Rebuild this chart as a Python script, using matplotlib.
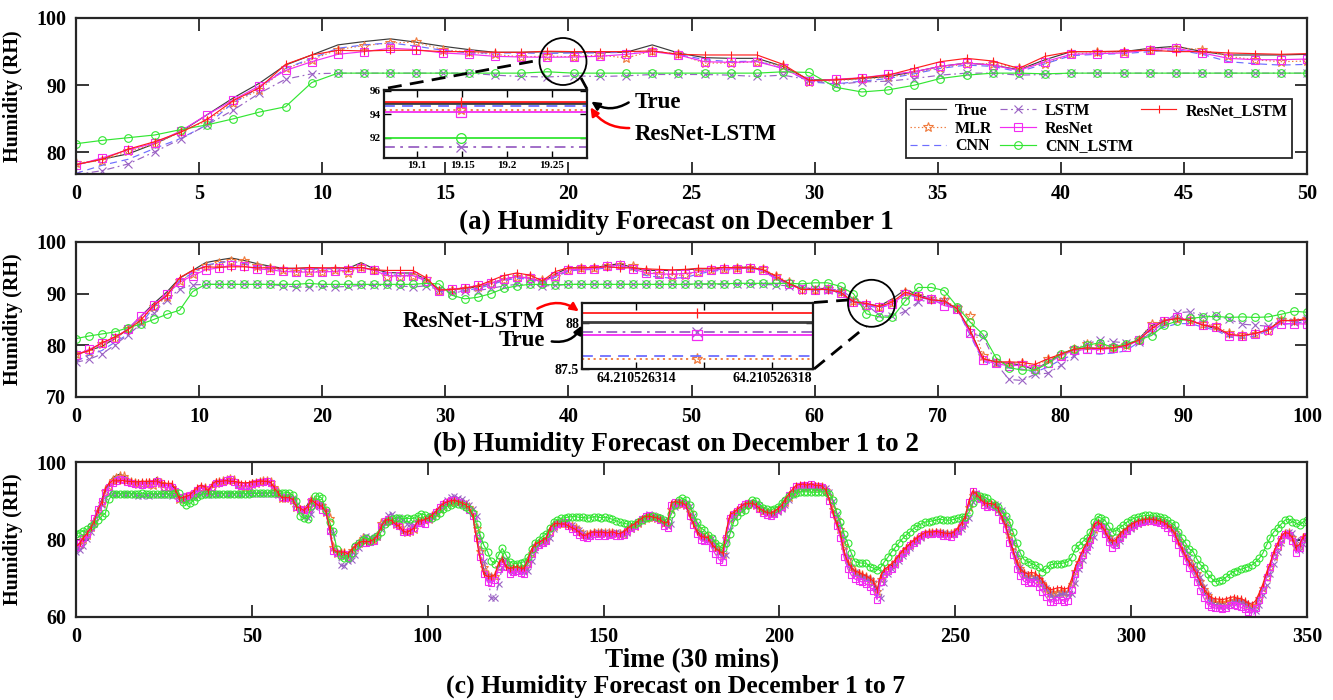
import numpy as np
import matplotlib
matplotlib.use('Agg')
import matplotlib.pyplot as plt
from matplotlib.patches import Ellipse, FancyArrowPatch
from matplotlib.lines import Line2D
from matplotlib.ticker import FixedLocator, FixedFormatter

plt.rcParams['font.family'] = ['Liberation Serif', 'DejaVu Serif']
plt.rcParams['font.weight'] = 'bold'
plt.rcParams['axes.labelweight'] = 'bold'

# ---------------- data (half-hourly humidity, 7 days) ----------------
TRUE = [
 78.2, 79.0, 79.8, 81.3, 83.1, 85.6, 88.1, 90.3, 93.0, 94.5,
 96.0, 96.5, 96.9, 96.4, 95.8, 95.3, 94.9, 94.9, 94.98, 94.9,
 94.9, 94.9, 96.0, 94.8, 94.1, 94.0, 94.0, 92.8, 90.8, 90.8,
 91.0, 91.3, 92.0, 92.8, 93.3, 93.0, 92.3, 93.8, 95.0, 95.0,
 95.0, 95.5, 95.8, 95.0, 94.5, 94.5, 94.5, 94.6, 94.8, 94.8,
 95.0, 95.0, 95.2, 94.6, 93.0, 92.0, 91.0, 91.0, 91.0, 90.0,
 88.4, 88.01, 87.6, 89.0, 90.8, 89.8, 89.0, 88.4, 87.1, 82.9,
 77.4, 76.8, 76.5, 76.2, 75.2, 76.8, 78.3, 79.3, 79.5, 79.4,
 79.5, 79.8, 81.2, 83.8, 84.8, 85.2, 84.8, 83.9, 83.2, 82.0,
 81.8, 82.3, 83.0, 84.9, 84.7, 85.0, 85.5, 86.2, 87.0, 88.2,
 89.0, 89.5, 89.8, 90.0, 89.6, 89.3, 88.8, 88.0, 86.5, 81.0,
 76.0, 72.0, 70.2, 70.0, 70.3, 73.4, 75.5, 73.5, 72.1, 72.4,
 72.8, 72.4, 72.2, 74.5, 77.0, 78.6, 79.0, 79.5, 80.0, 82.5,
 83.8, 84.0, 84.2, 84.2, 83.8, 83.2, 82.9, 82.0, 81.2, 81.0,
 81.5, 81.8, 81.6, 81.9, 81.5, 81.6, 81.8, 81.4, 81.3, 81.6,
 82.5, 83.2, 83.7, 84.5, 85.2, 85.8, 85.9, 85.6, 85.5, 85.3,
 84.0, 83.7, 89.0, 89.3, 89.3, 89.2, 88.9, 86.5, 84.6, 82.5,
 80.8, 80.5, 80.7, 79.0, 77.7, 76.8, 76.0, 82.0, 86.0, 86.8,
 87.5, 88.5, 89.0, 89.1, 89.3, 88.8, 88.0, 87.2, 86.8, 86.5,
 87.0, 87.8, 88.5, 90.0, 91.3, 92.5, 93.6, 93.5, 93.7, 93.6,
 93.8, 93.5, 93.6, 93.4, 92.6, 90.5, 87.2, 84.5, 82.0, 77.0,
 74.0, 72.5, 71.3, 71.0, 70.6, 70.2, 69.5, 68.7, 65.7, 70.5,
 72.0, 72.6, 73.4, 74.5, 75.8, 76.9, 77.8, 78.9, 79.6, 80.3,
 81.0, 81.5, 81.7, 81.6, 81.8, 81.6, 81.4, 81.3, 81.2, 81.8,
 82.7, 84.0, 85.5, 89.5, 92.3, 91.5, 90.5, 89.3, 88.9, 89.0,
 88.9, 87.5, 85.8, 83.7, 80.3, 77.5, 74.0, 72.0, 70.8, 70.4,
 70.5, 70.4, 69.5, 68.3, 67.0, 65.7, 66.0, 66.4, 66.6, 66.3,
 66.5, 69.0, 72.6, 74.8, 77.0, 78.6, 80.5, 83.5, 84.3, 83.5,
 82.0, 80.2, 79.0, 79.5, 81.0, 82.0, 82.6, 83.5, 84.0, 84.5,
 84.8, 85.0, 85.1, 85.0, 84.8, 84.6, 84.2, 83.6, 82.8, 81.5,
 79.5, 77.7, 75.8, 74.0, 72.6, 70.8, 68.5, 66.6, 65.0, 64.0,
 63.8, 63.6, 63.5, 63.8, 64.4, 64.5, 64.2, 64.0, 63.5, 62.5,
 62.2, 63.5, 65.7, 68.0, 71.0, 73.5, 76.5, 78.6, 80.5, 81.6,
 81.5, 80.3, 77.5, 78.5, 80.7, 81.2]

RESNET_LSTM = [
 78.2, 79.0, 80.5, 81.6, 83.0, 84.9, 87.7, 89.6, 93.1, 94.5,
 95.2, 95.1, 95.2, 95.2, 95.0, 95.0, 94.9, 94.9, 95.06, 95.0,
 95.0, 95.0, 95.1, 94.6, 94.5, 94.5, 94.5, 93.1, 90.7, 90.8,
 91.1, 91.5, 92.5, 93.5, 94.0, 93.6, 92.5, 94.3, 95.0, 95.0,
 95.1, 95.2, 95.0, 95.0, 94.8, 94.7, 94.6, 94.7, 94.9, 94.9,
 95.1, 95.0, 95.0, 94.7, 93.4, 92.0, 90.8, 90.8, 90.8, 90.3,
 88.4, 88.11, 87.5, 88.4, 90.3, 89.5, 88.8, 88.6, 87.1, 82.9,
 77.4, 76.8, 76.8, 76.7, 76.3, 77.4, 78.3, 79.2, 79.5, 79.4,
 79.5, 80.0, 81.0, 83.2, 84.8, 85.2, 84.8, 83.9, 83.5, 82.1,
 81.9, 82.3, 83.0, 84.8, 84.8, 85.2, 85.6, 86.4, 87.3, 88.5,
 89.3, 89.7, 90.0, 90.1, 89.8, 89.4, 89.0, 88.2, 86.0, 80.0,
 74.8, 71.0, 70.5, 70.4, 71.0, 74.0, 75.0, 73.0, 72.5, 72.8,
 73.0, 72.6, 72.6, 75.0, 77.5, 78.8, 79.3, 79.8, 80.5, 83.0,
 84.0, 84.2, 84.0, 84.0, 83.5, 83.0, 82.6, 81.8, 81.0, 81.2,
 81.8, 82.0, 81.8, 82.0, 81.7, 81.8, 82.0, 81.6, 81.5, 82.0,
 82.8, 83.5, 84.0, 84.8, 85.5, 86.0, 86.0, 85.8, 85.6, 85.2,
 84.2, 84.5, 89.5, 89.8, 89.6, 89.4, 88.8, 86.0, 84.0, 82.0,
 80.8, 80.6, 80.5, 78.8, 77.8, 77.0, 76.5, 82.5, 86.5, 87.0,
 87.8, 88.6, 89.2, 89.3, 89.4, 88.9, 88.0, 87.4, 87.0, 86.8,
 87.2, 88.0, 88.8, 90.3, 91.8, 93.0, 94.0, 94.2, 94.3, 94.0,
 94.4, 94.0, 94.0, 93.8, 92.8, 90.2, 86.8, 84.0, 81.5, 76.8,
 74.2, 72.8, 71.8, 71.5, 71.0, 70.6, 70.0, 69.2, 67.0, 70.8,
 72.3, 73.0, 73.8, 74.8, 76.0, 77.2, 78.0, 79.0, 79.8, 80.5,
 81.2, 81.8, 82.0, 81.9, 82.1, 81.9, 81.7, 81.6, 81.5, 82.0,
 83.0, 84.3, 86.0, 90.0, 92.5, 91.8, 90.6, 89.6, 89.2, 89.3,
 89.0, 87.8, 85.6, 83.4, 80.0, 77.0, 74.2, 72.4, 71.5, 71.2,
 71.5, 71.3, 70.5, 69.5, 68.0, 67.0, 67.2, 67.5, 67.6, 67.2,
 67.5, 70.0, 73.0, 75.2, 77.3, 79.0, 81.0, 83.8, 84.5, 83.8,
 82.2, 80.5, 79.5, 80.0, 81.4, 82.3, 83.0, 83.8, 84.3, 84.8,
 85.0, 85.2, 85.3, 85.2, 85.0, 84.8, 84.4, 83.8, 83.0, 81.5,
 79.3, 77.5, 75.6, 74.0, 72.8, 71.0, 69.0, 67.3, 65.8, 65.0,
 64.7, 64.6, 64.5, 64.7, 65.0, 65.2, 64.8, 64.8, 64.3, 63.5,
 63.3, 64.2, 66.2, 68.5, 71.5, 74.0, 77.0, 79.0, 80.8, 81.8,
 81.6, 80.5, 78.0, 78.8, 80.8, 81.3]

RESNET = [
 78.1, 79.2, 80.4, 81.4, 83.2, 85.6, 87.8, 89.9, 92.2, 93.5,
 94.6, 95.0, 95.5, 95.3, 94.8, 94.6, 94.3, 94.2, 94.16, 94.2,
 94.3, 94.6, 95.0, 94.5, 93.5, 93.4, 93.5, 92.5, 90.6, 90.9,
 91.1, 91.6, 92.0, 92.8, 93.3, 93.0, 92.2, 93.5, 94.6, 94.7,
 94.8, 95.3, 95.5, 94.8, 94.0, 93.8, 93.8, 93.9, 94.2, 94.5,
 94.8, 94.8, 95.0, 94.5, 92.8, 91.8, 90.9, 90.8, 90.9, 90.2,
 88.4, 87.87, 87.5, 88.0, 90.0, 89.5, 89.0, 87.7, 87.1, 82.3,
 77.1, 76.5, 76.0, 76.2, 75.5, 76.5, 78.0, 79.0, 79.2, 79.2,
 79.4, 79.7, 81.0, 83.5, 84.8, 85.4, 84.8, 84.0, 83.5, 81.9,
 81.9, 82.2, 83.0, 84.2, 84.2, 84.1, 85.2, 86.0, 87.0, 88.3,
 89.2, 89.8, 90.2, 90.3, 89.8, 89.2, 88.5, 87.5, 86.0, 80.5,
 75.5, 71.0, 69.0, 68.8, 69.5, 72.5, 74.5, 72.8, 71.2, 71.5,
 71.8, 71.3, 71.2, 73.8, 76.2, 78.0, 78.5, 79.0, 79.6, 82.0,
 83.6, 84.0, 84.3, 84.5, 83.6, 82.6, 82.0, 81.2, 80.6, 80.5,
 81.0, 81.4, 81.0, 81.4, 81.0, 81.1, 81.3, 80.8, 80.8, 81.2,
 82.2, 83.0, 83.6, 84.6, 85.4, 86.0, 86.2, 85.8, 85.5, 85.0,
 83.5, 83.0, 88.8, 89.6, 89.5, 89.3, 88.8, 86.0, 83.8, 81.5,
 79.8, 79.5, 79.5, 77.8, 76.2, 74.8, 74.2, 80.5, 85.5, 86.5,
 87.3, 88.5, 89.2, 89.4, 89.5, 88.8, 87.8, 86.8, 86.2, 86.0,
 86.6, 87.6, 88.4, 90.0, 91.5, 92.8, 93.8, 93.8, 94.0, 93.9,
 94.2, 93.8, 93.9, 93.6, 92.6, 90.0, 86.5, 83.5, 80.5, 75.5,
 72.5, 70.8, 69.8, 69.4, 69.0, 68.5, 67.8, 66.8, 64.5, 69.0,
 71.0, 71.8, 72.5, 73.8, 75.2, 76.4, 77.3, 78.5, 79.2, 80.0,
 80.8, 81.3, 81.5, 81.4, 81.6, 81.3, 81.0, 80.8, 80.6, 81.3,
 82.3, 83.8, 85.3, 89.6, 92.5, 91.8, 90.5, 89.0, 88.5, 88.6,
 88.5, 87.0, 85.0, 82.8, 79.0, 76.0, 72.5, 70.5, 69.2, 68.8,
 69.0, 68.8, 67.8, 66.5, 65.2, 63.8, 64.0, 64.3, 64.5, 64.0,
 64.2, 67.0, 71.0, 73.5, 76.0, 78.0, 80.0, 83.2, 84.0, 83.0,
 81.3, 79.3, 77.8, 78.5, 80.3, 81.5, 82.2, 83.2, 83.8, 84.3,
 84.6, 84.8, 84.9, 84.8, 84.5, 84.3, 83.8, 83.0, 82.0, 80.5,
 78.5, 76.5, 74.5, 72.6, 71.0, 69.0, 66.8, 64.8, 63.2, 62.5,
 62.3, 62.2, 62.0, 62.4, 63.0, 63.2, 62.8, 62.5, 62.0, 61.2,
 61.0, 62.2, 64.5, 67.0, 70.2, 72.8, 76.0, 78.2, 80.2, 81.4,
 81.2, 79.5, 76.5, 77.8, 80.2, 80.8]

MLR = [
 78.4, 78.8, 80.2, 81.2, 83.1, 84.7, 87.4, 89.3, 92.5, 93.8,
 95.3, 95.9, 96.3, 96.4, 95.3, 94.9, 94.6, 94.2, 94.36, 94.2,
 94.5, 94.05, 95.1, 94.6, 93.3, 93.3, 93.5, 92.9, 90.5, 90.7,
 90.9, 91.2, 91.8, 92.6, 93.2, 93.2, 92.6, 93.2, 94.6, 94.9,
 95.0, 95.3, 95.6, 95.3, 94.3, 93.8, 93.5, 93.6, 94.2, 94.6,
 94.8, 95.0, 95.0, 94.8, 93.5, 92.2, 90.8, 90.8, 90.9, 90.3,
 88.5, 87.61, 87.5, 88.2, 90.3, 89.6, 89.0, 88.8, 87.2, 85.6,
 78.0, 76.6, 76.4, 76.5, 75.8, 77.4, 78.0, 79.2, 80.3, 79.8,
 79.6, 80.0, 81.0, 84.2, 84.5, 85.0, 84.9, 84.1, 83.8, 82.4,
 82.0, 82.2, 82.8, 84.9, 84.7, 85.0, 85.2, 86.0, 86.8, 87.8,
 88.8, 89.4, 89.7, 90.0, 89.7, 89.4, 89.0, 88.3, 87.2, 83.0,
 77.0, 72.8, 70.8, 70.3, 70.5, 72.8, 75.0, 74.0, 72.6, 72.4,
 72.8, 72.6, 72.4, 74.0, 76.5, 78.4, 79.0, 79.4, 80.0, 82.0,
 83.6, 84.0, 84.2, 84.2, 83.9, 83.4, 83.0, 82.2, 81.5, 81.1,
 81.4, 81.8, 81.7, 81.8, 81.6, 81.6, 81.8, 81.5, 81.3, 81.5,
 82.3, 83.0, 83.6, 84.3, 85.0, 85.6, 85.8, 85.7, 85.5, 85.4,
 84.3, 83.8, 88.0, 89.2, 89.3, 89.2, 89.0, 87.0, 85.0, 83.0,
 81.2, 80.6, 80.7, 79.3, 78.0, 77.0, 76.3, 80.5, 85.2, 86.6,
 87.3, 88.2, 88.9, 89.1, 89.2, 88.9, 88.2, 87.4, 86.9, 86.6,
 86.9, 87.6, 88.3, 89.6, 91.0, 92.3, 93.3, 93.5, 93.6, 93.6,
 93.7, 93.6, 93.6, 93.5, 92.9, 91.2, 88.0, 85.3, 82.8, 78.5,
 75.0, 73.0, 71.6, 71.1, 70.8, 70.4, 69.8, 69.0, 66.8, 69.8,
 71.7, 72.5, 73.3, 74.3, 75.6, 76.7, 77.6, 78.7, 79.5, 80.2,
 80.9, 81.4, 81.7, 81.6, 81.8, 81.7, 81.5, 81.4, 81.3, 81.7,
 82.5, 83.7, 85.2, 88.5, 91.5, 91.6, 90.8, 89.6, 89.0, 89.0,
 89.0, 87.9, 86.3, 84.3, 81.3, 78.3, 75.0, 72.6, 71.2, 70.6,
 70.5, 70.5, 69.8, 68.7, 67.4, 66.2, 66.1, 66.4, 66.6, 66.5,
 66.5, 68.4, 71.8, 74.3, 76.6, 78.3, 80.2, 82.8, 84.1, 83.7,
 82.4, 80.6, 79.3, 79.4, 80.6, 81.8, 82.4, 83.2, 83.8, 84.3,
 84.7, 84.9, 85.1, 85.0, 84.9, 84.7, 84.3, 83.8, 83.0, 81.9,
 80.0, 78.2, 76.3, 74.5, 73.0, 71.3, 69.2, 67.2, 65.6, 64.5,
 64.0, 63.8, 63.6, 63.8, 64.2, 64.5, 64.3, 64.1, 63.7, 62.9,
 62.5, 63.2, 65.0, 67.4, 70.3, 73.0, 75.8, 78.2, 80.2, 81.4,
 81.6, 80.7, 78.2, 78.3, 80.3, 81.0]

CNN = [
 76.9, 78.1, 79.0, 80.6, 82.1, 84.1, 87.4, 89.6, 92.5, 94.0,
 95.5, 96.0, 96.3, 95.8, 95.2, 94.8, 94.8, 94.8, 94.72, 94.8,
 94.8, 94.9, 95.1, 94.6, 93.8, 93.5, 93.6, 92.5, 90.5, 90.2,
 90.6, 91.0, 91.7, 92.5, 93.0, 92.8, 92.0, 93.2, 94.4, 94.6,
 94.7, 95.0, 95.3, 94.6, 93.5, 93.2, 93.0, 93.1, 93.8, 94.3,
 94.6, 94.7, 94.8, 94.4, 93.0, 91.8, 90.9, 90.7, 90.7, 90.0,
 88.2, 87.64, 87.3, 87.9, 89.9, 89.3, 88.8, 88.0, 87.0, 82.0,
 76.9, 76.2, 75.6, 75.4, 74.8, 75.8, 77.2, 78.2, 78.5, 78.3,
 78.5, 78.9, 80.6, 83.0, 83.5, 84.2, 84.2, 83.5, 82.9, 81.6,
 81.4, 81.8, 82.8, 84.0, 84.3, 84.6, 85.0, 85.6, 86.4, 87.6,
 88.4, 88.9, 89.2, 89.4, 89.0, 88.7, 88.2, 87.4, 85.8, 80.4,
 75.3, 71.2, 69.4, 69.2, 69.5, 72.6, 74.8, 72.8, 71.4, 71.7,
 72.1, 71.7, 71.5, 73.8, 76.3, 77.9, 78.3, 78.8, 79.3, 81.8,
 83.1, 83.4, 83.6, 83.6, 83.2, 82.6, 82.3, 81.4, 80.6, 80.4,
 80.9, 81.2, 81.0, 81.3, 80.9, 81.0, 81.2, 80.8, 80.7, 81.0,
 81.9, 82.6, 83.1, 83.9, 84.6, 85.2, 85.3, 85.0, 84.9, 84.7,
 83.4, 83.1, 88.4, 88.7, 88.7, 88.6, 88.3, 85.9, 84.0, 81.9,
 80.2, 79.9, 80.1, 78.4, 77.1, 76.2, 75.4, 81.4, 85.4, 86.2,
 86.9, 87.9, 88.4, 88.5, 88.7, 88.2, 87.4, 86.6, 86.2, 85.9,
 86.4, 87.2, 87.9, 89.4, 90.7, 91.9, 93.0, 92.9, 93.1, 93.0,
 93.2, 92.9, 93.0, 92.8, 92.0, 89.9, 86.6, 83.9, 81.4, 76.4,
 73.4, 71.9, 70.7, 70.4, 70.0, 69.6, 68.9, 68.1, 65.1, 69.9,
 71.4, 72.0, 72.8, 73.9, 75.2, 76.3, 77.2, 78.3, 79.0, 79.7,
 80.4, 80.9, 81.1, 81.0, 81.2, 81.0, 80.8, 80.7, 80.6, 81.2,
 82.1, 83.4, 84.9, 88.9, 91.7, 90.9, 89.9, 88.7, 88.3, 88.4,
 88.3, 86.9, 85.2, 83.1, 79.7, 76.9, 73.4, 71.4, 70.2, 69.8,
 69.9, 69.8, 68.9, 67.7, 66.4, 65.1, 65.4, 65.8, 66.0, 65.7,
 65.9, 68.4, 72.0, 74.2, 76.4, 78.0, 79.9, 82.9, 83.7, 82.9,
 81.4, 79.6, 78.4, 78.9, 80.4, 81.4, 82.0, 82.9, 83.4, 83.9,
 84.2, 84.4, 84.5, 84.4, 84.2, 84.0, 83.6, 83.0, 82.2, 80.9,
 78.9, 77.1, 75.2, 73.4, 72.0, 70.2, 67.9, 66.0, 64.4, 63.4,
 63.2, 63.0, 62.9, 63.2, 63.8, 63.9, 63.6, 63.4, 62.9, 61.9,
 61.6, 62.9, 65.1, 67.4, 70.4, 72.9, 75.9, 78.0, 79.9, 81.0,
 80.9, 79.7, 76.9, 77.9, 80.1, 80.6]

LSTM = [
 76.7, 77.3, 78.3, 80.1, 82.0, 84.1, 86.3, 88.8, 90.9, 91.7,
 91.8, 91.8, 91.8, 91.8, 91.8, 91.8, 91.5, 91.3, 91.23, 91.4,
 91.3, 91.4, 91.6, 91.6, 91.6, 91.5, 91.3, 91.5, 90.8, 90.1,
 90.5, 90.6, 91.0, 91.5, 91.8, 91.8, 91.5, 91.6, 91.8, 91.8,
 91.8, 91.8, 91.8, 91.8, 91.8, 91.8, 91.8, 91.8, 91.8, 91.8,
 91.8, 91.8, 91.8, 91.8, 91.7, 91.5, 91.2, 91.0, 90.8, 90.8,
 89.0, 87.90, 85.8, 85.6, 86.6, 88.4, 88.9, 88.6, 87.0, 82.3,
 81.7, 76.5, 73.4, 73.2, 74.4, 74.6, 76.1, 77.9, 80.3, 81.0,
 80.7, 80.5, 80.6, 82.6, 84.5, 86.3, 86.5, 85.6, 85.8, 85.0,
 84.1, 83.9, 83.7, 84.8, 84.6, 85.0, 85.5, 86.0, 86.8, 87.8,
 89.0, 90.2, 91.0, 91.1, 90.8, 90.4, 89.8, 89.0, 88.0, 86.0,
 80.0, 74.5, 70.5, 65.0, 64.8, 68.5, 72.8, 75.0, 73.0, 71.5,
 71.8, 72.0, 71.5, 72.0, 74.5, 77.2, 78.5, 79.0, 79.6, 80.3,
 82.6, 84.0, 84.5, 84.6, 84.4, 83.8, 83.0, 82.4, 81.6, 81.0,
 81.0, 81.6, 82.0, 81.6, 82.0, 81.5, 81.7, 82.0, 81.6, 81.3,
 81.6, 82.6, 83.5, 84.2, 85.0, 85.9, 86.5, 86.2, 85.8, 85.5,
 85.0, 83.5, 84.0, 88.5, 89.5, 89.5, 89.3, 88.6, 86.0, 84.0,
 81.8, 80.3, 80.0, 80.3, 78.5, 76.8, 75.5, 76.0, 82.5, 86.0,
 87.2, 87.8, 88.8, 89.3, 89.4, 89.5, 89.0, 88.0, 87.2, 86.8,
 86.6, 87.2, 88.0, 88.8, 90.2, 91.5, 92.5, 93.2, 93.4, 93.5,
 93.5, 93.6, 93.4, 93.5, 93.2, 92.3, 90.0, 86.5, 83.5, 80.5,
 75.5, 72.8, 71.5, 70.6, 70.4, 70.0, 69.6, 68.8, 67.5, 64.8,
 68.8, 71.2, 72.5, 73.3, 74.5, 75.8, 76.9, 77.9, 79.0, 79.7,
 80.4, 81.1, 81.6, 81.8, 81.7, 81.9, 81.6, 81.5, 81.3, 81.3,
 81.9, 82.8, 84.1, 85.6, 89.6, 92.0, 91.0, 90.2, 89.4, 88.9,
 89.1, 88.9, 87.5, 85.5, 83.0, 79.5, 76.5, 73.0, 71.2, 70.2,
 69.8, 70.0, 69.9, 68.9, 67.6, 66.2, 64.8, 65.4, 66.0, 66.3,
 65.8, 66.0, 68.8, 72.5, 74.8, 77.0, 78.7, 80.6, 83.6, 84.5,
 83.4, 81.8, 79.9, 78.5, 79.5, 81.2, 82.2, 82.8, 83.6, 84.1,
 84.6, 84.9, 85.1, 85.2, 85.0, 84.8, 84.6, 84.2, 83.5, 82.6,
 81.2, 79.0, 77.2, 75.4, 73.5, 72.0, 70.2, 67.8, 65.8, 64.2,
 63.2, 62.9, 62.8, 62.7, 63.0, 63.8, 64.2, 63.9, 63.6, 63.0,
 61.8, 61.5, 63.2, 65.8, 68.2, 71.2, 73.8, 76.8, 79.0, 80.8,
 81.9, 81.6, 80.0, 77.2, 78.9, 80.8]

CNN_LSTM = [
 81.3, 81.8, 82.2, 82.6, 83.4, 84.1, 85.0, 86.0, 86.8, 90.4,
 91.8, 91.8, 91.8, 91.8, 91.8, 91.8, 91.8, 91.8, 92.0, 91.8,
 91.8, 91.8, 91.8, 91.8, 91.8, 91.8, 91.8, 92.0, 91.9, 89.7,
 89.0, 89.3, 90.0, 91.0, 91.5, 91.8, 91.8, 91.7, 91.8, 91.8,
 91.8, 91.8, 91.8, 91.8, 91.8, 91.8, 91.8, 91.8, 91.9, 91.9,
 91.9, 92.0, 92.0, 92.0, 92.0, 92.0, 91.9, 92.1, 92.1, 91.4,
 90.0, 86.1, 85.5, 85.4, 88.6, 91.2, 91.2, 90.6, 87.5, 84.5,
 82.1, 77.6, 75.7, 75.2, 75.2, 76.5, 78.3, 79.2, 80.0, 80.5,
 79.6, 80.3, 81.0, 81.9, 83.9, 84.7, 85.2, 85.5, 85.6, 85.4,
 85.5, 85.4, 85.5, 86.0, 86.6, 86.4, 85.8, 85.6, 86.0, 86.8,
 87.8, 88.5, 89.0, 89.3, 89.2, 89.0, 88.5, 87.8, 86.8, 84.0,
 81.2, 78.5, 76.9, 74.5, 73.8, 76.0, 77.7, 76.0, 74.3, 73.8,
 73.8, 74.0, 74.3, 75.5, 77.5, 79.0, 80.0, 80.8, 81.5, 83.0,
 84.6, 85.0, 85.5, 85.6, 85.8, 85.9, 85.9, 85.7, 85.7, 85.5,
 85.6, 85.9, 85.8, 85.6, 85.8, 85.5, 85.2, 84.8, 84.4, 84.2,
 84.0, 84.0, 84.1, 84.5, 85.0, 85.5, 85.9, 86.0, 85.8, 85.6,
 85.0, 84.5, 86.5, 88.9, 90.2, 90.6, 90.2, 89.0, 86.5, 84.5,
 83.0, 82.4, 81.2, 80.3, 79.2, 78.4, 77.7, 79.0, 81.5, 84.6,
 86.0, 87.0, 87.6, 88.8, 90.2, 90.0, 89.0, 88.2, 87.8, 87.6,
 88.0, 88.5, 89.5, 90.3, 91.1, 91.8, 92.1, 92.3, 92.3, 92.3,
 92.2, 92.2, 92.2, 92.3, 92.3, 91.8, 90.2, 87.0, 84.6, 81.5,
 79.0, 76.5, 74.3, 74.0, 73.9, 73.9, 73.0, 72.6, 72.1, 72.8,
 74.3, 75.5, 76.9, 78.0, 79.2, 80.3, 81.2, 82.0, 82.9, 83.5,
 84.0, 84.5, 84.6, 84.8, 85.0, 85.2, 85.1, 85.0, 85.0, 85.2,
 85.5, 85.8, 85.9, 87.0, 89.3, 91.5, 91.3, 91.0, 90.6, 89.8,
 89.0, 88.5, 87.0, 86.0, 84.6, 82.0, 79.0, 76.5, 74.8, 74.3,
 73.8, 73.4, 72.8, 71.7, 72.5, 73.4, 73.6, 73.8, 73.8, 74.0,
 74.3, 75.5, 77.7, 78.5, 79.5, 80.3, 82.0, 84.5, 85.9, 85.5,
 85.0, 83.5, 82.0, 82.3, 83.0, 83.7, 84.5, 85.0, 85.5, 85.8,
 86.0, 86.2, 86.2, 86.1, 86.0, 85.9, 85.6, 85.0, 84.3, 83.7,
 82.0, 80.3, 79.0, 77.5, 76.9, 75.0, 73.5, 72.6, 71.0, 70.0,
 69.1, 69.3, 69.5, 70.3, 71.0, 71.7, 72.0, 72.3, 72.6, 73.0,
 73.4, 74.2, 75.1, 76.5, 78.6, 80.5, 82.0, 82.9, 84.0, 85.0,
 85.2, 84.6, 84.2, 83.7, 84.6, 85.0]

SERIES_NAMES = ['True', 'MLR', 'CNN', 'LSTM', 'ResNet', 'CNN_LSTM', 'ResNet_LSTM']
SERIES = {'True': TRUE, 'MLR': MLR, 'CNN': CNN, 'LSTM': LSTM, 'ResNet': RESNET,
          'CNN_LSTM': CNN_LSTM, 'ResNet_LSTM': RESNET_LSTM}
for k, v in SERIES.items():
    assert len(v) == 336, (k, len(v))

POINTS_PER_DAY = 48
PANEL_DAYS = [1, 2, 7]
PANEL_XMAX = [50, 100, 350]
INSET_A_INDEX = 18
INSET_B_INDEX = 61

STYLE = {
    'True':        dict(color='#3c3c3c', ls='-',  marker=None),
    'MLR':         dict(color='#F07A3C', ls=':',  marker='*'),
    'CNN':         dict(color='#6E6EFF', ls='--', marker=None),
    'LSTM':        dict(color='#9A62C4', ls='-.', marker='x'),
    'ResNet':      dict(color='#F22CF2', ls='-',  marker='s'),
    'CNN_LSTM':    dict(color='#33E633', ls='-',  marker='o'),
    'ResNet_LSTM': dict(color='#FF1E1E', ls='-',  marker='|'),
}
DASHES = {'--': (0, (6, 4)), '-.': (0, (6, 3, 1.5, 3)), ':': (0, (1.2, 2))}

W, H = 1333, 700
fig = plt.figure(figsize=(13.33, 7.0), dpi=100)

def fx(px):
    return px / W

def fy(py):
    return 1 - py / H

SPINE = '#262626'

def style_axes(ax, labelsize=14.5, ticklen=9):
    for s in ax.spines.values():
        s.set_color(SPINE)
        s.set_linewidth(1.6)
    ax.tick_params(direction='in', length=ticklen, width=1.3, top=True, right=True,
                   labelsize=labelsize, colors=SPINE, labelcolor='black', pad=7)

def plot_series(ax, n, xmax, ms, lw=0.85):
    x = np.linspace(0, xmax, n)
    handles = []
    for name in SERIES_NAMES:
        st = STYLE[name]
        ls = DASHES.get(st['ls'], st['ls'])
        h, = ax.plot(x, np.array(SERIES[name][:n]), color=st['color'], linestyle=ls,
                     lw=lw, marker=st['marker'], ms=ms if st['marker'] != '*' else ms + 1.5,
                     mfc='none', mew=0.8, label=name)
        handles.append(h)
    return handles

# panel rectangles in pixels: (left, top, right, bottom)
rects = [(76, 18, 1307, 174), (76, 242, 1307, 397), (76, 462, 1307, 617)]
ylims = [(76.8, 100), (70, 100), (60, 100)]
yticks = [[80, 90, 100], [70, 80, 90, 100], [60, 80, 100]]
xsteps = [5, 10, 50]
axes = []
for k, (l, t, r, b) in enumerate(rects):
    ax = fig.add_axes([fx(l), fy(b), fx(r) - fx(l), fy(t) - fy(b)])
    n = POINTS_PER_DAY * PANEL_DAYS[k]
    handles = plot_series(ax, n, PANEL_XMAX[k], ms=5.5 if k < 2 else 5)
    ax.set_xlim(0, PANEL_XMAX[k])
    ax.set_ylim(*ylims[k])
    ax.set_yticks(yticks[k])
    ax.set_xticks(np.arange(0, PANEL_XMAX[k] + 1, xsteps[k]))
    style_axes(ax)
    ax.set_ylabel('Humidity (RH)', fontsize=14.5, fontweight='bold')
    ax.yaxis.set_label_coords(-0.043, 0.5)
    axes.append(ax)
    if k == 0:
        blank = Line2D([], [], color='none')
        leg_handles = handles + [blank, blank]
        leg_labels = SERIES_NAMES + [' ', ' ']
        leg = ax.legend(leg_handles, leg_labels, ncol=3, loc='lower right',
                        bbox_to_anchor=(0.994, 0.05), fontsize=11.5, frameon=True,
                        fancybox=False, edgecolor='#262626', framealpha=1,
                        handlelength=2.2, labelspacing=0.1, columnspacing=0.5,
                        handletextpad=0.6, borderpad=0.25)
        leg.get_frame().set_linewidth(1.3)
        for t in leg.get_texts():
            t.set_fontweight('bold')

# titles
TFS = 19.5
fig.text(fx(676), fy(222), '(a) Humidity Forecast on December 1', ha='center', va='center',
         fontsize=TFS, fontweight='bold')
fig.text(fx(676), fy(444), '(b) Humidity Forecast on December 1 to 2', ha='center', va='center',
         fontsize=TFS, fontweight='bold')
fig.text(fx(692), fy(661), 'Time (30 mins)', ha='center', va='center', fontsize=TFS,
         fontweight='bold')
fig.text(fx(676), fy(686), '(c) Humidity Forecast on December 1 to 7', ha='center', va='center',
         fontsize=18.5, fontweight='bold')

# ---------------- insets ----------------
def inset(rect_px, idx, n, xmax, xlim, ylim, xt, xtl, yt, ytl, fs):
    l, t, r, b = rect_px
    ia = fig.add_axes([fx(l), fy(b), fx(r) - fx(l), fy(t) - fy(b)])
    x = np.linspace(0, xmax, n)
    for name in SERIES_NAMES:
        st = STYLE[name]
        ls = DASHES.get(st['ls'], st['ls'])
        v = SERIES[name][idx]
        lw = 2.0 if name == 'True' else 1.3
        ia.axhline(v, color=st['color'], linestyle=ls, lw=lw)
        if st['marker']:
            ia.plot([x[idx]], [v], color=st['color'], marker=st['marker'],
                    ms=7 if st['marker'] != '*' else 8, mfc='none', mew=0.9, ls='none')
    ia.set_xlim(*xlim)
    ia.set_ylim(*ylim)
    ia.xaxis.set_major_locator(FixedLocator(xt))
    ia.xaxis.set_major_formatter(FixedFormatter(xtl))
    ia.yaxis.set_major_locator(FixedLocator(yt))
    ia.yaxis.set_major_formatter(FixedFormatter(ytl))
    for s in ia.spines.values():
        s.set_color('#1a1a1a')
        s.set_linewidth(1.6)
    ia.tick_params(direction='in', length=5, width=1.0, top=True, right=True,
                   labelsize=fs, pad=2)
    for tl in ia.get_xticklabels() + ia.get_yticklabels():
        tl.set_fontweight('bold')
    return ia

inset((384, 90, 587, 158), INSET_A_INDEX, 48, 50, (19.063, 19.289), (90.3, 96.05),
      [19.1, 19.15, 19.2, 19.25], ['19.1', '19.15', '19.2', '19.25'],
      [92, 94, 96], ['92', '94', '96'], 8)
inset((582, 303, 813, 369), INSET_B_INDEX, 96, 100,
      (64.2105263124, 64.2105263192), (87.5, 88.22),
      [64.210526314, 64.210526316, 64.210526318], ['64.210526314', '', '64.210526318'],
      [87.5, 88], ['87.5', '88'], 10)

# ---------------- zoom circles and connectors ----------------
def circle(cx, cy, r):
    fig.add_artist(Ellipse((fx(cx), fy(cy)), 2 * r / W, 2 * r / H, fill=False,
                           edgecolor='black', lw=1.3, transform=fig.transFigure))

def dline(p0, p1):
    fig.add_artist(Line2D([fx(p0[0]), fx(p1[0])], [fy(p0[1]), fy(p1[1])], color='black',
                          lw=2.0, linestyle=(0, (5, 3)), transform=fig.transFigure))

circle(563, 61.5, 23.5)
dline((388, 88), (540, 60))
dline((587, 89), (581, 78))
circle(871.5, 303.3, 23.5)
dline((814, 302.5), (848, 300))
dline((814, 369), (866, 326.5))

def arrow(p0, p1, color, rad):
    fig.add_artist(FancyArrowPatch((fx(p0[0]), fy(p0[1])), (fx(p1[0]), fy(p1[1])),
                                   transform=fig.transFigure, arrowstyle='-|>',
                                   mutation_scale=12, color=color, lw=1.8,
                                   connectionstyle=f'arc3,rad={rad}'))

fig.text(fx(635), fy(102), 'True', ha='left', va='center', fontsize=16.5, fontweight='bold')
arrow((631, 101), (589, 100), 'black', -0.35)
fig.text(fx(635), fy(134), 'ResNet-LSTM', ha='left', va='center', fontsize=16.5,
         fontweight='bold')
arrow((632, 128), (589, 105), 'red', -0.3)

fig.text(fx(545), fy(321), 'ResNet-LSTM', ha='right', va='center', fontsize=16.5,
         fontweight='bold')
arrow((535, 310), (581, 313), 'red', -0.35)
fig.text(fx(545), fy(341), 'True', ha='right', va='center', fontsize=16.5, fontweight='bold')
arrow((549, 341), (583, 323), 'black', 0.4)

fig.savefig('out.png', dpi=100)
